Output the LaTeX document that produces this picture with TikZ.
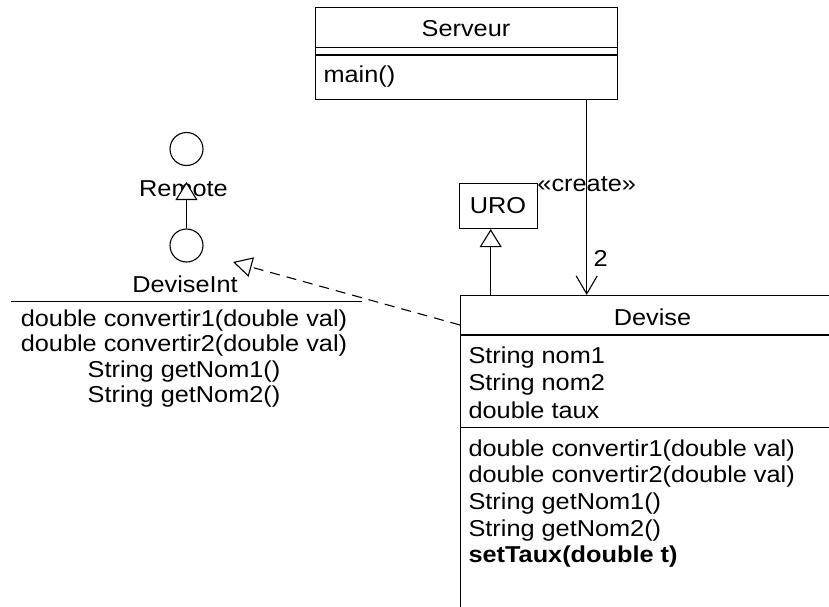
\documentclass[tikz,border=0pt]{standalone}
\usepackage{fontspec}
\setmainfont[FakeStretch=1.1]{Liberation Sans}
\setsansfont[FakeStretch=1.1]{Liberation Sans}
\usetikzlibrary{arrows.meta}

\begin{document}
\begin{tikzpicture}[x=1pt, y=-1pt, line width=1.1pt,
  txt/.style={inner sep=0pt, font=\fontsize{23}{26}\selectfont},
  lbl/.style={txt, anchor=base},
  item/.style={txt, anchor=base west},
  classbox/.style={draw, inner sep=0pt, anchor=north west},
  lolli/.style={draw, circle, inner sep=0pt, minimum size=33pt},
  inherit/.style={-{Triangle[fill=white, length=18pt, width=22pt]}},
  realize/.style={dash pattern=on 10pt off 7pt, -{Triangle[fill=white, length=19pt, width=20pt]}},
  createarrow/.style={-{Straight Barb[length=18pt, width=21pt]}}]

\useasboundingbox (0,0) rectangle (829,607);
\clip (0,0) rectangle (829,607);

% --- class Serveur ---
\node[classbox, minimum width=302pt, minimum height=92pt] (serveur) at (315,7) {};
\draw (serveur.west |- 0,47.7) -- (serveur.east |- 0,47.7);
\draw (serveur.west |- 0,55) -- (serveur.east |- 0,55);
\node[lbl] (serveurname) at (466,37) {Serveur};
\node[item] (mainop) at (323,83) {main()};

% --- class URO ---
\node[classbox, minimum width=78pt, minimum height=45pt] (uro) at (459,183) {};
\node[lbl] (uroname) at (498,213) {URO};

% --- class Devise (runs past the page edge) ---
\node[classbox, minimum width=385pt, minimum height=330pt] (devise) at (460,295) {};
\draw (devise.west |- 0,335) -- (devise.east |- 0,335);
\draw (devise.west |- 0,427.5) -- (devise.east |- 0,427.5);
\node[lbl] (devisename) at (652.5,325.5) {Devise};
\node[item] (attr1) at (468,363.3) {String nom1};
\node[item] (attr2) at (468,390.7) {String nom2};
\node[item] (attr3) at (468,418.3) {double taux};
\node[item] (op1) at (468,456) {double convertir1(double val)};
\node[item] (op2) at (468,482.7) {double convertir2(double val)};
\node[item] (op3) at (468,509.3) {String getNom1()};
\node[item] (op4) at (468,536) {String getNom2()};
\node[item] (op5) at (468,562.7) {\bfseries setTaux(double t)};

% --- interface DeviseInt (lollipop form) ---
\node[lolli] (remote) at (186.5,149) {};
\node[lbl] (remotename) at (183.5,196) {Remote};
\node[lolli] (devint) at (186.5,245.5) {};
\node[lbl] (devintname) at (185,292.5) {DeviseInt};
\coordinate (sepL) at (10.7,301.7);
\coordinate (sepR) at (362,301.7);
\draw (sepL) -- (sepR);
\node[lbl] (iop1) at (184,326.5) {double convertir1(double val)};
\node[lbl] (iop2) at (184,351.8) {double convertir2(double val)};
\node[lbl] (iop3) at (184,377.2) {String getNom1()};
\node[lbl] (iop4) at (184,402.5) {String getNom2()};

% --- connectors ---
\coordinate (remotetip) at (186.5,182);
\draw[inherit] (devint.north) -- (remotetip);

\draw[inherit] (490.7,0 |- devise.north) -- (490.7,0 |- uro.south);

\coordinate (devinttip) at (233,262);
\draw[realize] ([yshift=-30pt]devise.north west) -- (devinttip);

\draw[createarrow] (586.7,0 |- serveur.south) -- (586.7,0 |- devise.north);
\node[lbl] (createlbl) at (586.7,191.7) {«create»};
\node[item] (multlbl) at (593,266.7) {2};

\end{tikzpicture}
\end{document}
